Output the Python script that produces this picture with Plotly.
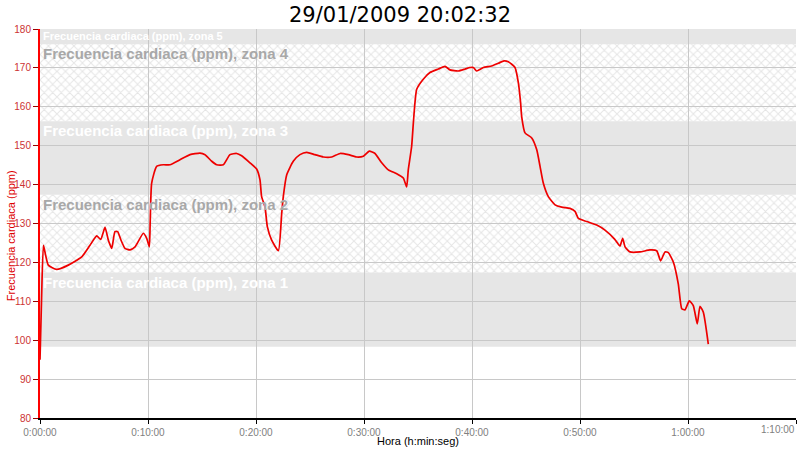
import plotly.graph_objects as go

# Time in minutes since start, heart rate in ppm
minutes = [0.0, 0.12, 0.31, 0.4, 0.77, 1.54, 2.62, 3.86, 4.63, 5.25, 5.62, 6.02, 6.33, 6.64,
           6.94, 7.19, 7.5, 7.87, 8.33, 8.8, 9.57, 9.88, 10.12, 10.2, 10.34, 10.8, 11.42,
           12.04, 12.96, 13.89, 14.81, 15.28, 15.9, 16.36, 16.97, 17.59, 18.21, 18.67,
           19.44, 20.06, 20.37, 20.52, 20.83, 21.05, 21.45, 22.07, 22.38, 22.53, 22.84,
           23.45, 24.07, 24.69, 25.46, 26.23, 27.01, 27.78, 28.55, 29.32, 29.94, 30.49,
           31.02, 31.64, 32.25, 33.03, 33.64, 33.95, 34.1, 34.41, 34.57, 34.72, 34.88,
           35.49, 36.11, 36.88, 37.5, 37.96, 38.73, 39.35, 39.81, 40.12, 40.43, 41.05,
           41.82, 42.44, 42.96, 43.36, 43.98, 44.29, 44.5, 44.6, 44.91, 45.53, 45.99,
           46.3, 46.6, 47.07, 47.69, 48.31, 49.07, 49.54, 49.85, 50.62, 51.55, 52.31,
           53.2, 53.7, 53.95, 54.17, 54.63, 55.56, 56.48, 57.1, 57.47, 57.87, 58.18,
           58.64, 59.1, 59.42, 59.72, 60.12, 60.49, 60.86, 61.11, 61.42, 61.88]
heart_rate = [95, 108, 124.4, 123.5, 119.3, 118.2, 119.3, 121.4, 124.4, 126.8, 125.9, 129.0,
              125.7, 123.6, 127.9, 127.9, 125.7, 123.6, 123.2, 124.0, 127.5, 126.2, 124.0,
              130, 140.4, 144.7, 145.1, 145.1, 146.4, 147.7, 148.1, 147.7, 146.0, 145.1,
              145.1, 147.7, 148.0, 147.4, 145.6, 144.0, 141.2, 136.9, 134.3, 129.2, 125.7,
              123.0, 132.6, 137.0, 142.5, 146.0, 147.7, 148.3, 147.7, 147.1, 147.1, 148.0,
              147.7, 147.1, 147.3, 148.6, 148.0, 145.6, 143.8, 142.8, 141.7, 139.4, 143.8,
              149.8, 155.9, 161.1, 164.5, 167.1, 168.8, 169.7, 170.4, 169.5, 169.2, 169.7,
              170.1, 170.1, 169.2, 170.1, 170.5, 171.2, 171.8, 171.6, 170.1, 166.2, 161.0,
              157.5, 153.3, 152.0, 149.0, 144.7, 140.4, 136.9, 134.8, 134.2, 133.9, 133.1,
              131.3, 130.5, 129.6, 128.3, 126.0, 124.2, 126.2, 124.0, 122.7, 122.7, 123.2,
              123.0, 120.4, 122.7, 122.5, 120.1, 114.5, 108.1, 107.8, 110.1, 108.9, 104.2,
              108.7, 107.2, 99.0]

# Heart-rate zone limits (ppm)
zone_limits = [98.3, 117.4, 137.4, 156.3, 176.1, 180.0]
zone_names = ["Frecuencia cardiaca (ppm), zona 1", "Frecuencia cardiaca (ppm), zona 2",
              "Frecuencia cardiaca (ppm), zona 3", "Frecuencia cardiaca (ppm), zona 4",
              "Frecuencia cardiaca (ppm), zona 5"]
hatched = [False, True, False, True, False]

x_ticks = [0, 10, 20, 30, 40, 50, 60, 70]
x_tick_labels = ["0:00:00", "0:10:00", "0:20:00", "0:30:00", "0:40:00", "0:50:00",
                 "1:00:00", "1:10:00"]
x_range = [0, 70]
y_range = [80, 180]
title_text = "29/01/2009 20:02:32"
x_title = "Hora (h:min:seg)"
y_title = "Frecuencia cardiaca (ppm)"

fig = go.Figure()

shapes = []
annotations = []
for i, name in enumerate(zone_names):
    lo, hi = zone_limits[i], zone_limits[i + 1]
    if hatched[i]:
        fig.add_trace(go.Scatter(
            x=[x_range[0], x_range[1], x_range[1], x_range[0], x_range[0]],
            y=[lo, lo, hi, hi, lo], mode="lines", line=dict(width=0),
            fill="toself", fillcolor="rgba(0,0,0,0)",
            fillpattern=dict(shape="x", fgcolor="#cccccc", bgcolor="rgba(0,0,0,0)",
                             size=6, solidity=0.3),
            hoverinfo="skip", showlegend=False))
        color = "#a8a8a8"
    else:
        shapes.append(dict(type="rect", xref="x", yref="y", x0=x_range[0], x1=x_range[1],
                           y0=lo, y1=hi, fillcolor="#e6e6e6", line=dict(width=0),
                           layer="below"))
        color = "#ffffff"
    annotations.append(dict(
        text=name, xref="paper", x=0.002, xanchor="left", yref="y", y=hi, yanchor="top",
        showarrow=False, borderpad=0,
        font=dict(family="Arial, Liberation Sans", size=11 if i == 4 else 15,
                  color=color, weight="bold")))

fig.add_trace(go.Scatter(
    x=minutes, y=heart_rate, mode="lines",
    line=dict(color="#ee0000", width=1.7, shape="spline", smoothing=0.5),
    showlegend=False, hoverinfo="skip"))

tick_font = dict(family="Arial, Liberation Sans", size=10, color="#808080")
# last x tick label is kept inside the picture, right-aligned on its tick
shown_ticktext = x_tick_labels[:-1] + [""]
annotations.append(dict(text=x_tick_labels[-1], xref="x", x=x_ticks[-1], xanchor="right",
                        yref="paper", y=-0.029, yanchor="middle", showarrow=False,
                        borderpad=0, font=tick_font))
annotations.append(dict(text=x_title, xref="paper", x=0.5, xanchor="center",
                        yref="paper", y=-0.059, yanchor="middle", showarrow=False,
                        borderpad=0,
                        font=dict(family="Arial, Liberation Sans", size=11, color="black")))
annotations.append(dict(text=y_title, xref="paper", x=-0.0384, xanchor="center",
                        yref="paper", y=0.47, yanchor="middle", textangle=-90,
                        showarrow=False, borderpad=0,
                        font=dict(family="Arial, Liberation Sans", size=11, color="#dd0000")))
annotations.append(dict(text=title_text, xref="paper", x=0.476, xanchor="center",
                        yref="paper", y=1.036, yanchor="middle", showarrow=False,
                        borderpad=0,
                        font=dict(family="DejaVu Sans, Verdana", size=21, color="black")))

fig.update_layout(
    width=800, height=452,
    margin=dict(l=40, r=4, t=29, b=34, autoexpand=False),
    paper_bgcolor="white", plot_bgcolor="white",
    shapes=shapes, annotations=annotations,
    xaxis=dict(range=x_range, tickvals=x_ticks, ticktext=shown_ticktext,
               automargin=False,
               showgrid=True, gridcolor="#c8c8c8", gridwidth=1,
               showline=True, linecolor="black", linewidth=2,
               ticks="outside", ticklen=4, tickcolor="black",
               tickfont=tick_font,
               zeroline=False),
    yaxis=dict(range=y_range, dtick=10, tick0=80, automargin=False,
               showgrid=True, gridcolor="#c8c8c8", gridwidth=1,
               showline=True, linecolor="#ff0000", linewidth=2,
               ticks="outside", ticklen=5, tickcolor="#990000",
               tickfont=dict(family="Arial, Liberation Sans", size=10, color="#cc3333"),
               zeroline=False),
)

fig.write_html("out.html", config={"displayModeBar": False},
               post_script="document.body.style.margin='0';document.body.style.padding='0';")
